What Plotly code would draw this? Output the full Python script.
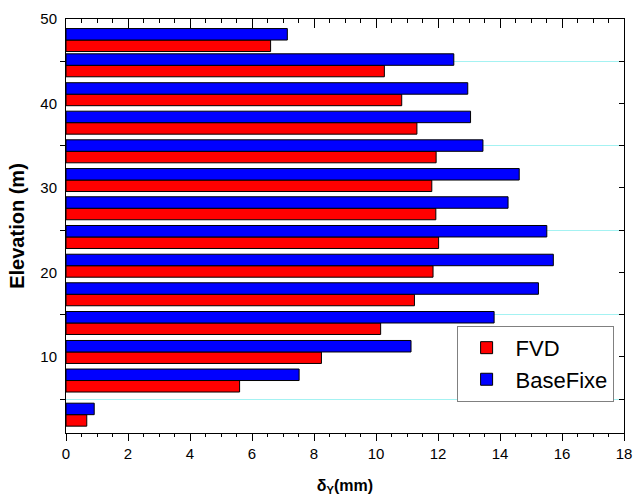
import plotly.graph_objects as go

# Data
elevation = [3.17, 7.21, 10.59, 14.02, 17.42, 20.80, 24.20, 27.60, 30.94, 34.34, 37.73, 41.10, 44.52, 47.51]
fvd = [0.67, 5.60, 8.24, 10.15, 11.24, 11.84, 12.02, 11.93, 11.80, 11.94, 11.32, 10.83, 10.27, 6.60]
basefixe = [0.91, 7.52, 11.13, 13.81, 15.24, 15.72, 15.51, 14.26, 14.62, 13.45, 13.05, 12.96, 12.51, 7.14]
series_names = ["FVD", "BaseFixe"]
x_ticks = [0, 2, 4, 6, 8, 10, 12, 14, 16, 18]
y_ticks = [10, 20, 30, 40, 50]
y_minor = [5, 15, 25, 35, 45]

BW = 1.36
FONT = "Arial, Liberation Sans, sans-serif"

fig = go.Figure()
fig.add_trace(go.Bar(
    x=fvd, y=elevation, orientation="h", name=series_names[0],
    width=BW, offset=-BW,
    marker=dict(color="#ff0000", line=dict(color="#000000", width=1)),
))
fig.add_trace(go.Bar(
    x=basefixe, y=elevation, orientation="h", name=series_names[1],
    width=BW, offset=0,
    marker=dict(color="#0000ff", line=dict(color="#000000", width=1)),
))
# empty trace to register the mirror (top/right) axes
fig.add_trace(go.Scatter(x=[], y=[], xaxis="x2", yaxis="y2", showlegend=False, hoverinfo="skip"))

fig.update_layout(
    width=633, height=499,
    margin=dict(l=66, r=9, t=19, b=66, autoexpand=False),
    paper_bgcolor="white", plot_bgcolor="white",
    barmode="overlay",
    font=dict(family=FONT, color="#000000", size=15),
    showlegend=True,
    legend=dict(
        x=0.70, y=0.167, xanchor="left", yanchor="middle",
        bgcolor="white", bordercolor="#808080", borderwidth=1,
        font=dict(family=FONT, size=22, color="#000000"),
        traceorder="normal", tracegroupgap=0, itemwidth=48,
    ),
    xaxis=dict(
        range=[0, 18], tickvals=x_ticks, ticks="outside", ticklen=7, tickwidth=1,
        tickcolor="#000000", showline=True, linecolor="#000000", linewidth=1,
        showgrid=False, zeroline=False, automargin=False, ticklabeloverflow="allow",
        tickfont=dict(size=15),
        minor=dict(dtick=0.5, tick0=0, ticks="outside", ticklen=3, tickcolor="#000000", showgrid=False),
        title=dict(text="<b>δ<sub>Y</sub>(mm)</b>", font=dict(size=16), standoff=18),
    ),
    yaxis=dict(
        range=[1, 50], tickvals=y_ticks, ticks="", showline=True, linecolor="#000000",
        linewidth=1, showgrid=False, zeroline=False, ticklabelstandoff=5, automargin=False,
        tickfont=dict(size=15),
        minor=dict(tickvals=y_minor, ticks="outside", ticklen=5, tickcolor="#000000",
                   showgrid=True, gridcolor="#a4f2f2", gridwidth=1),
        title=dict(text="<b>Elevation (m)</b>", font=dict(size=20), standoff=10),
    ),
    xaxis2=dict(
        range=[0, 18], overlaying="x", side="top", anchor="y2", tickvals=x_ticks,
        ticks="inside", ticklen=9, tickcolor="#000000", showticklabels=False, automargin=False,
        showline=True, linecolor="#000000", linewidth=1, showgrid=False, zeroline=False,
        minor=dict(dtick=0.5, tick0=0, ticks="inside", ticklen=4, tickcolor="#000000", showgrid=False),
    ),
    yaxis2=dict(
        range=[1, 50], overlaying="y", side="right", anchor="x2", dtick=5, tick0=0,
        ticks="inside", ticklen=5, tickcolor="#000000", showticklabels=False, automargin=False,
        showline=True, linecolor="#000000", linewidth=1, showgrid=False, zeroline=False,
    ),
)

fig.write_html("out.html", config={"displayModeBar": False},
               post_script="document.body.style.margin='0';")
